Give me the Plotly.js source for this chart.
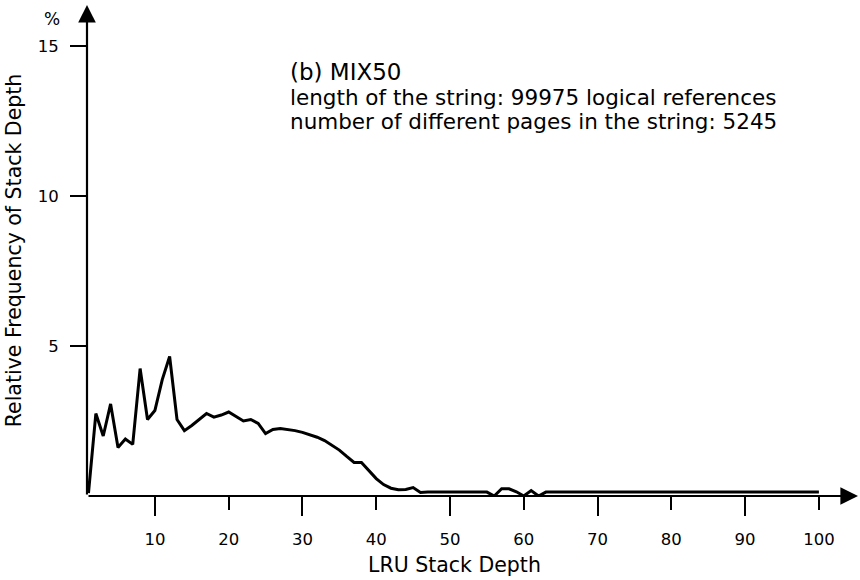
<!DOCTYPE html>
<html>
<head>
<meta charset="utf-8">
<script src="https://cdn.plot.ly/plotly-3.0.1.min.js"></script>
<style>html,body{margin:0;padding:0;background:#fff;}#chart{width:860px;height:580px;}</style>
</head>
<body>
<div id="chart"></div>
<script>
// LRU stack depth (1..100)
const stackDepth = [
  1,2,3,4,5,6,7,8,9,10,11,12,13,14,15,16,17,18,19,20,
  21,22,23,24,25,26,27,28,29,30,31,32,33,34,35,36,37,38,39,40,
  41,42,43,44,45,46,47,48,49,50,51,52,53,54,55,56,57,58,59,60,
  61,62,63,64,65,66,67,68,69,70,71,72,73,74,75,76,77,78,79,80,
  81,82,83,84,85,86,87,88,89,90,91,92,93,94,95,96,97,98,99,100
];
// Relative frequency of stack depth (%)
const relFrequency = [
  0.10,2.75,2.00,3.07,1.62,1.90,1.72,4.25,2.55,2.85,
  3.88,4.65,2.55,2.18,2.35,2.55,2.75,2.63,2.70,2.80,
  2.65,2.50,2.55,2.42,2.08,2.22,2.25,2.22,2.18,2.12,
  2.05,1.96,1.85,1.70,1.53,1.32,1.12,1.12,0.86,0.58,
  0.38,0.26,0.21,0.22,0.28,0.12,0.13,0.13,0.13,0.13,
  0.13,0.13,0.13,0.13,0.13,0.00,0.24,0.24,0.14,0.00,
  0.18,0.00,0.13,0.13,0.13,0.13,0.13,0.13,0.13,0.13,
  0.13,0.13,0.13,0.13,0.13,0.13,0.13,0.13,0.13,0.13,
  0.13,0.13,0.13,0.13,0.13,0.13,0.13,0.13,0.13,0.13,
  0.13,0.13,0.13,0.13,0.13,0.13,0.13,0.13,0.13,0.13
];
const xTicks = [10,20,30,40,50,60,70,80,90,100];
const xLongTicks = [10,30,50,70,90];
const yTicks = [5,10,15];
const infoLines = [
  "(b) MIX50",
  "length of the string: 99975 logical references",
  "number of different pages in the string: 5245"
];
const xTitle = "LRU Stack Depth";
const yTitle = "Relative Frequency of Stack Depth";

const FONT = "DejaVu Sans, Liberation Sans, Arial, sans-serif";
const xRange = [0.8, 105.3];
const yRange = [0, 16.37];

const trace = {
  x: stackDepth, y: relFrequency, type: 'scatter', mode: 'lines',
  line: {color: '#000', width: 3}, hoverinfo: 'skip', showlegend: false
};
const dummy = {x: [xRange[0]], y: [0], xaxis: 'x2', yaxis: 'y', type: 'scatter', mode: 'markers',
  marker: {opacity: 0}, showlegend: false, hoverinfo: 'skip'};

const infoAnn = infoLines.map((t, i) => ({
  text: t, xref: 'paper', yref: 'paper', x: 0.2607, y: [0.8635, 0.8126, 0.7637][i],
  xanchor: 'left', yanchor: 'middle', showarrow: false,
  font: {family: FONT, size: i === 0 ? 23 : 21.5, color: '#000'}
}));

const layout = {
  width: 860, height: 580,
  margin: {l: 87, r: 2, t: 5, b: 84},
  paper_bgcolor: '#fff', plot_bgcolor: '#fff',
  font: {family: FONT, color: '#000'},
  xaxis: {
    range: xRange, showgrid: false, zeroline: false, showline: false,
    tickmode: 'array', tickvals: xTicks, ticktext: xTicks.map(String),
    ticks: 'outside', ticklen: 13, tickwidth: 2, tickcolor: '#000',
    tickfont: {family: FONT, size: 16.5, color: '#000'}, ticklabelstandoff: 15
  },
  xaxis2: {
    range: xRange, overlaying: 'x', anchor: 'y', side: 'bottom',
    showgrid: false, zeroline: false, showline: false,
    tickmode: 'array', tickvals: xLongTicks, showticklabels: false,
    ticks: 'outside', ticklen: 19, tickwidth: 2, tickcolor: '#000'
  },
  yaxis: {
    range: yRange, showgrid: false, zeroline: false, showline: false,
    tickmode: 'array', tickvals: yTicks, ticktext: yTicks.map(String),
    ticks: 'outside', ticklen: 16, tickwidth: 2, tickcolor: '#000',
    tickfont: {family: FONT, size: 16.5, color: '#000'}, ticklabelstandoff: 8,
    title: {text: yTitle, font: {family: FONT, size: 20.5, color: '#000'}, standoff: 10}
  },
  annotations: [
    // y-axis arrow
    {xref: 'paper', yref: 'paper', x: 0, y: 1, ax: 0, ay: 491, axref: 'pixel', ayref: 'pixel',
     text: '', showarrow: true, arrowhead: 2, arrowsize: 1.6, arrowwidth: 2.2, arrowcolor: '#000', standoff: 0},
    // x-axis arrow
    {xref: 'paper', yref: 'paper', x: 1, y: 0, ax: -771, ay: 0, axref: 'pixel', ayref: 'pixel',
     text: '', showarrow: true, arrowhead: 2, arrowsize: 1.6, arrowwidth: 2.2, arrowcolor: '#000', standoff: 0},
    {text: '%', xref: 'paper', yref: 'paper', x: -0.0454, y: 0.9715, showarrow: false,
     xanchor: 'center', yanchor: 'middle', font: {family: FONT, size: 17, color: '#000'}},
    {text: xTitle, xref: 'paper', yref: 'paper', x: 0.4773, y: -0.1405, showarrow: false,
     xanchor: 'center', yanchor: 'middle', font: {family: FONT, size: 20.5, color: '#000'}},
    ...infoAnn
  ]
};

Plotly.newPlot('chart', [trace, dummy], layout, {displayModeBar: false, staticPlot: true});
</script>
</body>
</html>
